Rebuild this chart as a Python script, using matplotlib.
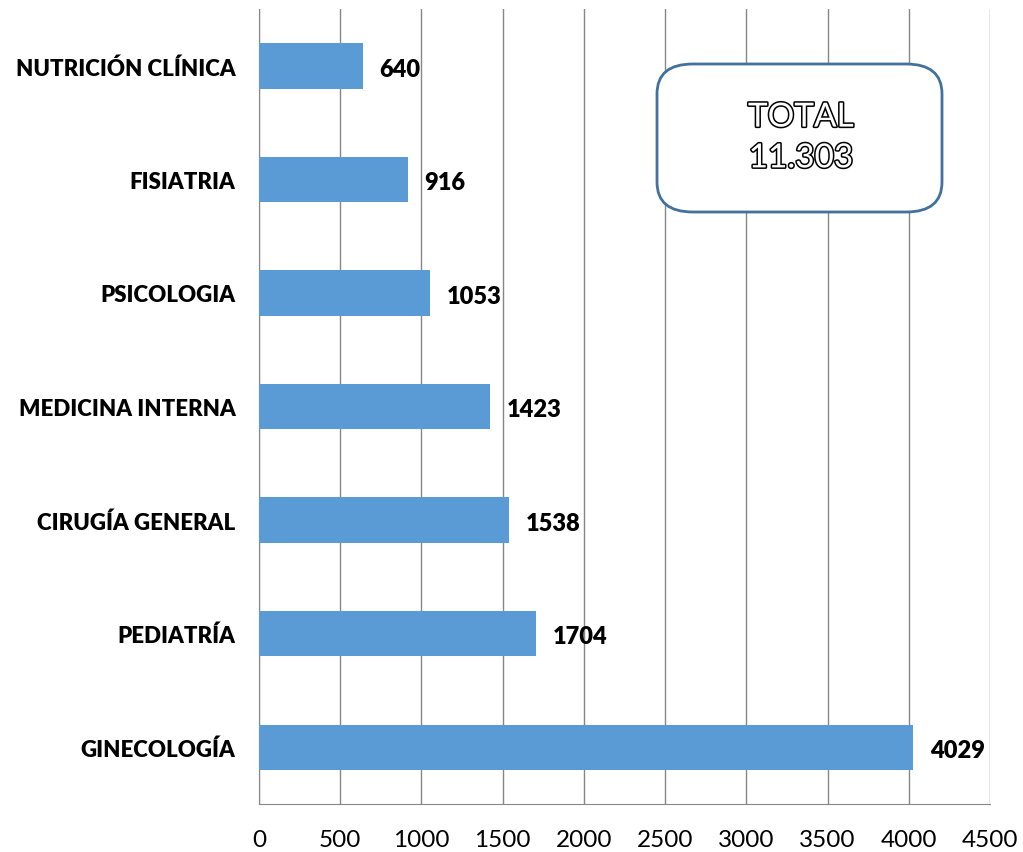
import matplotlib
matplotlib.use("Agg")
import matplotlib.pyplot as plt
import matplotlib.patheffects as pe
from matplotlib.patches import FancyBboxPatch

plt.rcParams['font.family'] = ['Lato', 'DejaVu Sans']

categories = ["GINECOLOGÍA", "PEDIATRÍA", "CIRUGÍA GENERAL", "MEDICINA INTERNA",
              "PSICOLOGIA", "FISIATRIA", "NUTRICIÓN CLÍNICA"]
values = [4029, 1704, 1538, 1423, 1053, 916, 640]
xticks = [0, 500, 1000, 1500, 2000, 2500, 3000, 3500, 4000, 4500]
total_label = "TOTAL\n11.303"

fig = plt.figure(figsize=(10.23, 8.53), dpi=100)
ax = fig.add_axes([259/1023, 1-805/853, (990-259)/1023, (805-10)/853])

y = range(len(categories))
ax.barh(y, values, height=0.4, color="#5B9BD5", zorder=3)
for yi, v in zip(y, values):
    ax.annotate(str(v), (v, yi), xytext=(12, -2), textcoords="offset points",
                ha="left", va="center", fontsize=17, fontweight="heavy", color="#000000")

ax.set_xlim(0, 4500)
ax.set_ylim(-0.5, len(categories) - 0.5)
ax.set_xticks(xticks)
ax.set_xticklabels([str(t) for t in xticks], fontsize=17.5)
ax.set_yticks(list(y))
ax.set_yticklabels(categories, fontsize=16, fontweight="heavy")
ax.tick_params(axis="y", length=0, pad=17)
ax.tick_params(axis="x", length=0, pad=18)
ax.grid(axis="x", color="#878787", linewidth=1, zorder=0)
for s in ["top", "right"]:
    ax.spines[s].set_visible(False)
ax.spines["left"].set_color("#878787")
ax.spines["bottom"].set_color("#878787")

box = FancyBboxPatch((657/1023, 1-213/853), (942-657)/1023, (213-65)/853,
                     boxstyle="round,pad=0,rounding_size=0.035",
                     transform=fig.transFigure, facecolor="white",
                     edgecolor="#41719C", linewidth=2, zorder=5)
fig.patches.append(box)
fig.text(801/1023, 1-139/853, total_label, ha="center", va="center",
         fontsize=24, color="white", linespacing=1.45, zorder=6,
         path_effects=[pe.withStroke(linewidth=2.2, foreground="black")])

fig.savefig("out.png", dpi=100)
